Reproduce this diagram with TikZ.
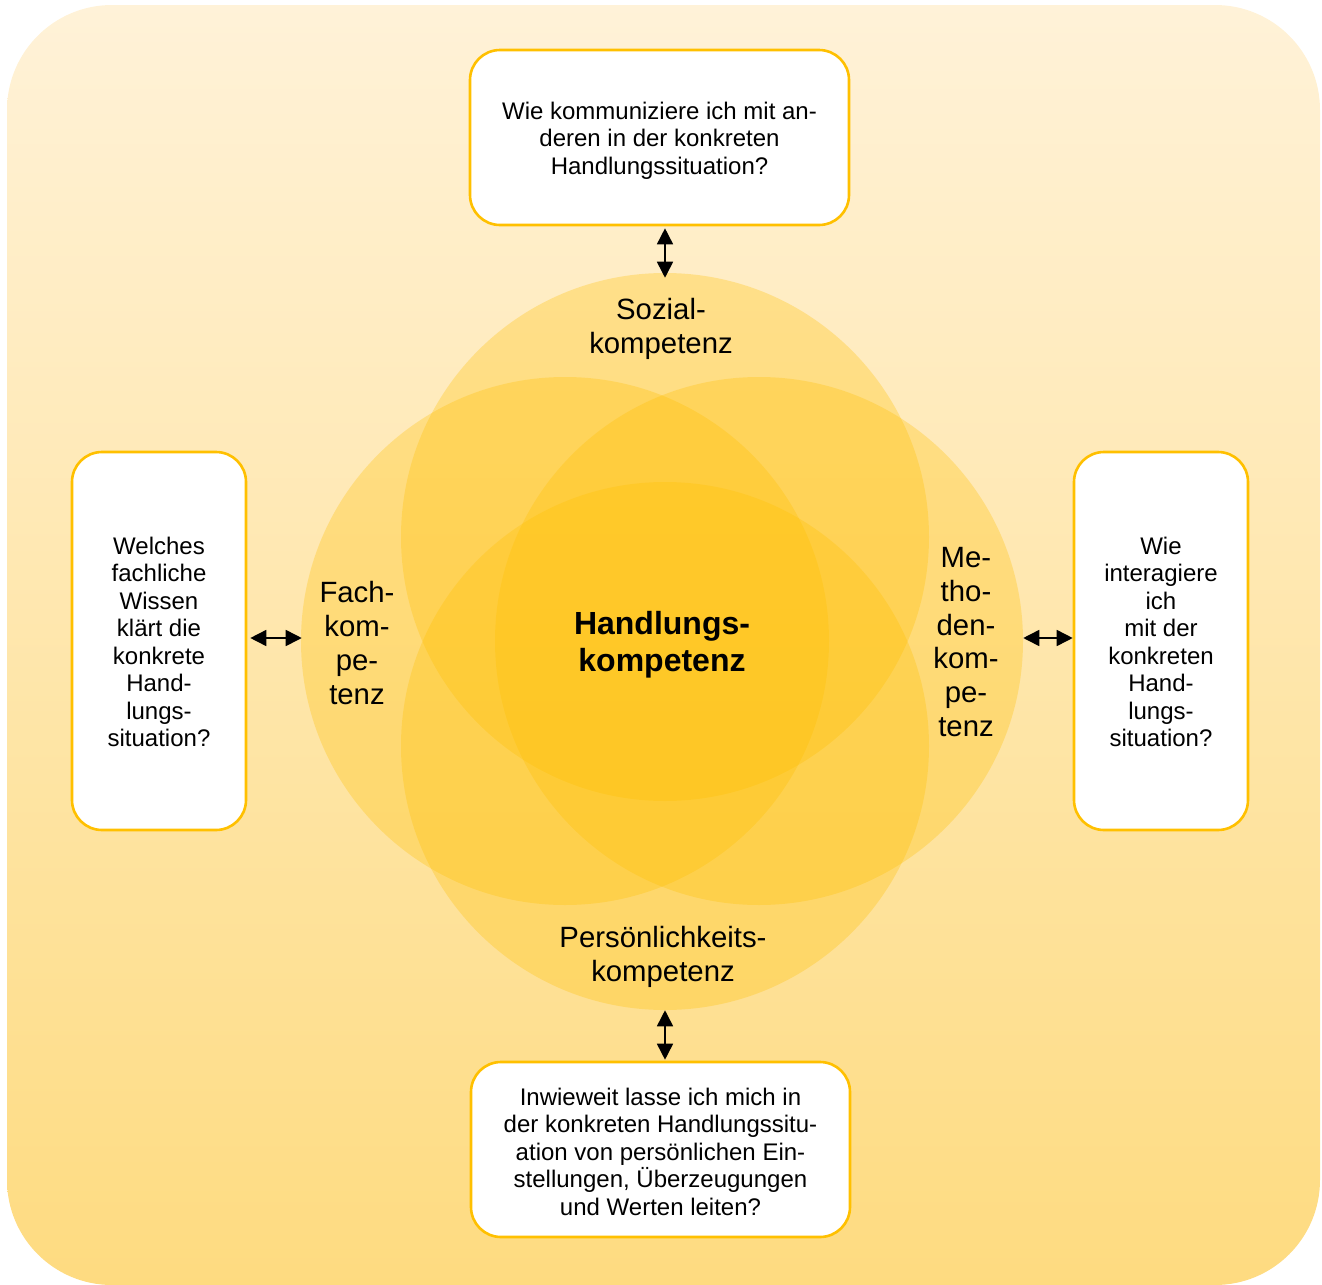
\documentclass[tikz,border=0pt]{standalone}
\usepackage{fontspec}
\setmainfont{Liberation Sans}
\usetikzlibrary{arrows.meta,calc}
\definecolor{bgtop}{RGB}{255,242,216}
\definecolor{bgbot}{RGB}{254,219,128}
\definecolor{ring}{RGB}{255,192,0}
\definecolor{disc}{RGB}{255,192,0}
\tikzset{
  qbox/.style={draw=ring, line width=2.6*0.75pt, rounded corners=30*0.75pt, fill=white, inner sep=0pt, align=center, font=\fontsize{18}{20.6}\selectfont},
  disk/.style={circle, fill=disc, fill opacity=0.3, draw=none, minimum size=528*0.75pt, inner sep=0pt},
  lbl/.style={align=center, font=\fontsize{22}{25.3}\selectfont},
  biarrow/.style={line width=1.6*0.75pt, {Triangle[length=12pt,width=12pt]}-{Triangle[length=12pt,width=12pt]}}
}
\begin{document}
\begin{tikzpicture}[x=0.75pt,y=-0.75pt]
\useasboundingbox (0,0) rectangle (1322,1285);
\shade[top color=bgtop, bottom color=bgbot, rounded corners=105*0.75pt] (7,5) rectangle (1320,1285);
% circles
\node[disk] (soz) at (665,537) {};
\node[disk] (fach) at (565,641) {};
\node[disk] (meth) at (759,641) {};
\node[disk] (pers) at (665,746) {};
% boxes
\node[qbox, minimum width=379*0.75pt, minimum height=175*0.75pt] (topbox) at (659.5,137.5) {};
\node[qbox, minimum width=174*0.75pt, minimum height=378*0.75pt] (leftbox) at (159,641) {};
\node[qbox, minimum width=174*0.75pt, minimum height=378*0.75pt] (rightbox) at (1161,641) {};
\node[qbox, minimum width=379*0.75pt, minimum height=175*0.75pt] (botbox) at (660.5,1149.5) {};
\node[align=center, font=\fontsize{18}{20.6}\selectfont] (toptext) at (659.5,140.5) {Wie kommuniziere ich mit an-\\deren in der konkreten\\Handlungssituation?};
\node[align=center, font=\fontsize{18}{20.6}\selectfont] (lefttext) at (159,642) {Welches\\fachliche\\Wissen\\klärt die\\konkrete\\Hand-\\lungs-\\situation?};
\node[align=center, font=\fontsize{18}{20.6}\selectfont] (righttext) at (1161,642) {Wie\\interagiere\\ich\\mit der\\konkreten\\Hand-\\lungs-\\situation?};
\node[align=center, font=\fontsize{18}{20.6}\selectfont] (bottext) at (660.5,1151.5) {Inwieweit lasse ich mich in\\der konkreten Handlungssitu-\\ation von persönlichen Ein-\\stellungen, Überzeugungen\\und Werten leiten?};
% labels
\node[lbl] (lsoz) at (661,329) {Sozial-\\kompetenz};
\node[lbl] (lfach) at (357,643) {Fach-\\kom-\\pe-\\tenz};
\node[lbl] (lmeth) at (966,642) {Me-\\tho-\\den-\\kom-\\pe-\\tenz};
\node[lbl] (lpers) at (663,957) {Persönlichkeits-\\kompetenz};
\node[align=center, font=\fontsize{24}{27.5}\bfseries\selectfont] (center) at (662,645) {Handlungs-\\kompetenz};
% arrows
\draw[biarrow] (soz.north |- topbox.south) ++(0,2) -- ($(soz.north)+(0,5)$);
\draw[biarrow] (pers.south |- botbox.north) ++(0,-1) -- ($(pers.south)+(0,0)$);
\draw[biarrow] (fach.west -| leftbox.east) ++(3,-3) -- ($(fach.west)+(1,-3)$);
\draw[biarrow] (meth.east -| rightbox.west) ++(0,-3) -- ($(meth.east)+(0,-3)$);
\end{tikzpicture}
\end{document}
